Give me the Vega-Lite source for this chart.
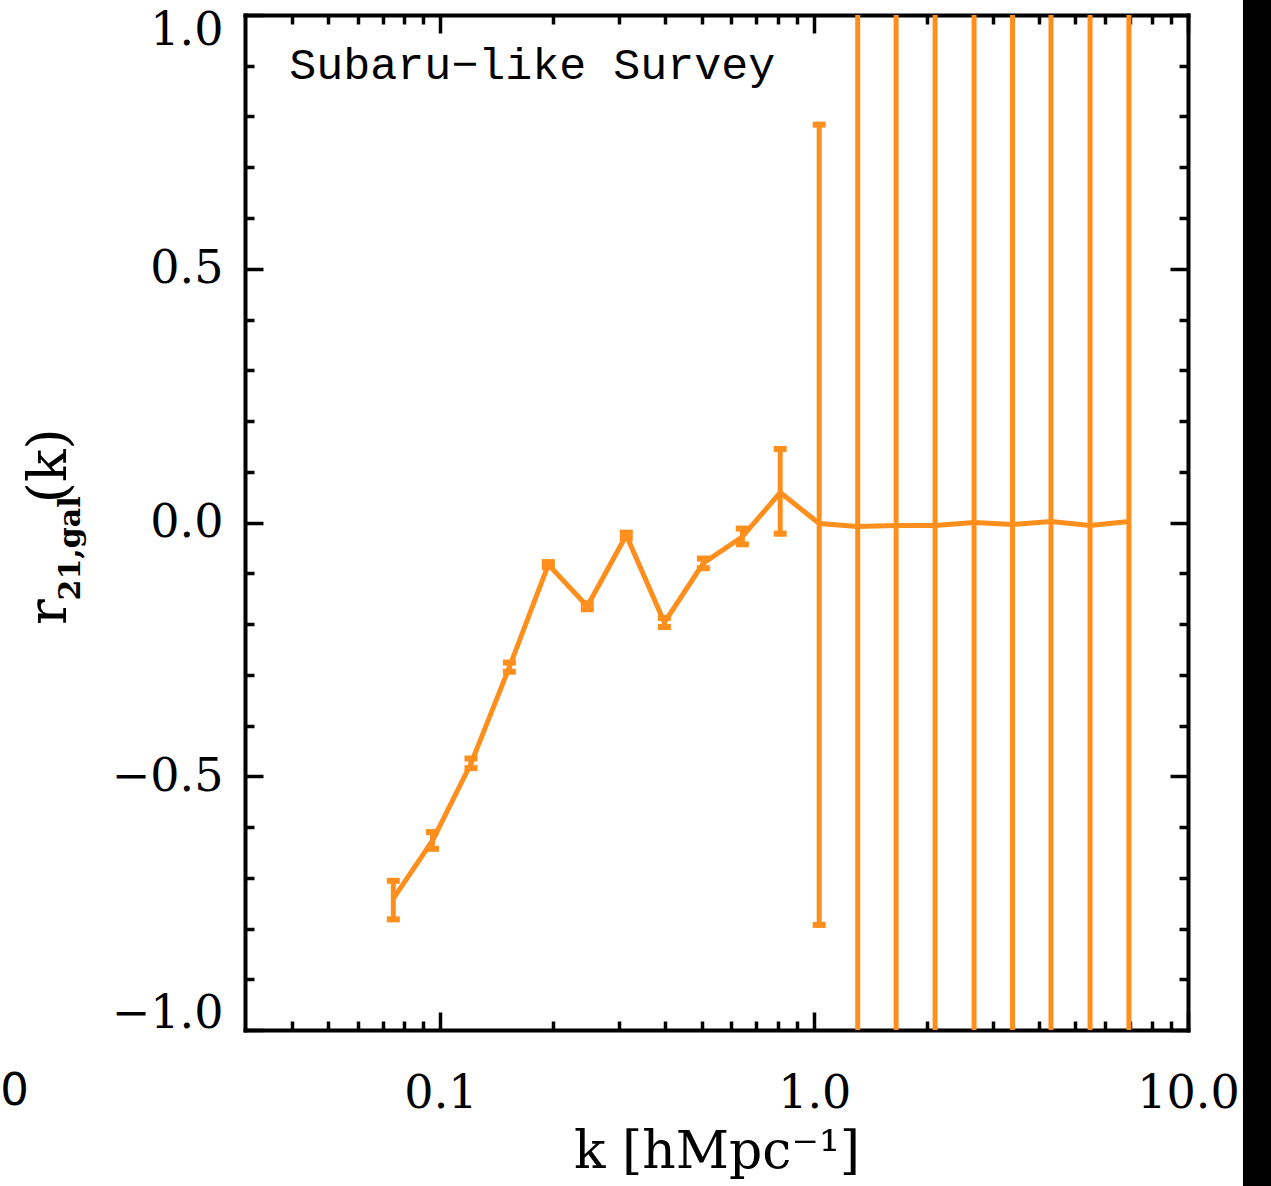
{
  "$schema": "https://vega.github.io/schema/vega-lite/v6.json",
  "width": 943,
  "height": 1015,
  "autosize": {"type": "none"},
  "padding": {"left": 245, "top": 15, "right": 83, "bottom": 156},
  "background": "white",
  "config": {
    "view": {"stroke": null},
    "axis": {"grid": false, "domainColor": "black", "tickColor": "black", "labelColor": "black", "titleColor": "black"}
  },
  "datasets": {
    "main": [
      {"k": 0.0748, "r": -0.741, "lo": -0.782, "hi": -0.706},
      {"k": 0.0952, "r": -0.627, "lo": -0.643, "hi": -0.610},
      {"k": 0.1207, "r": -0.475, "lo": -0.484, "hi": -0.465},
      {"k": 0.1529, "r": -0.285, "lo": -0.294, "hi": -0.276},
      {"k": 0.1944, "r": -0.083, "lo": -0.088, "hi": -0.078},
      {"k": 0.2471, "r": -0.165, "lo": -0.171, "hi": -0.159},
      {"k": 0.3142, "r": -0.025, "lo": -0.031, "hi": -0.020},
      {"k": 0.3973, "r": -0.197, "lo": -0.206, "hi": -0.188},
      {"k": 0.5052, "r": -0.080, "lo": -0.090, "hi": -0.071},
      {"k": 0.6423, "r": -0.028, "lo": -0.043, "hi": -0.012},
      {"k": 0.8109, "r": 0.059, "lo": -0.022, "hi": 0.145},
      {"k": 1.0311, "r": -0.002, "lo": -0.793, "hi": 0.784},
      {"k": 1.3073, "r": -0.008, "lo": -2.5, "hi": 2.5},
      {"k": 1.6562, "r": -0.006, "lo": -2.5, "hi": 2.5},
      {"k": 2.1057, "r": -0.006, "lo": -2.5, "hi": 2.5},
      {"k": 2.677, "r": 0.000, "lo": -2.5, "hi": 2.5},
      {"k": 3.393, "r": -0.004, "lo": -2.5, "hi": 2.5},
      {"k": 4.30, "r": 0.002, "lo": -2.5, "hi": 2.5},
      {"k": 5.47, "r": -0.006, "lo": -2.5, "hi": 2.5},
      {"k": 6.95, "r": 0.002, "lo": -2.5, "hi": 2.5}
    ]
  },
  "resolve": {"axis": {"x": "independent", "y": "independent"}},
  "layer": [
    {
      "data": {"values": [{"k": 14.03, "k2": 40, "r": -1.6, "r2": 1.3}]},
      "mark": {"type": "rect", "color": "black", "clip": false},
      "encoding": {
        "x": {"field": "k", "type": "quantitative", "scale": {"type": "log", "domain": [0.03, 10], "nice": false}, "axis": null},
        "x2": {"field": "k2"},
        "y": {"field": "r", "type": "quantitative", "scale": {"domain": [-1, 1], "nice": false, "zero": false}, "axis": null},
        "y2": {"field": "r2"}
      }
    },
    {
      "data": {"name": "main"},
      "mark": {"type": "line", "color": "#ff8f1c", "strokeWidth": 5},
      "encoding": {
        "x": {"field": "k", "type": "quantitative", "scale": {"type": "log", "domain": [0.03, 10], "nice": false},
          "axis": {"orient": "bottom", "values": [0.1, 1, 10], "format": ".1f", "ticks": false, "labelFont": "DejaVu Serif", "labelFontSize": 46, "labelPadding": 41, "labelFlush": false, "domainWidth": 4, "domainCap": "square", "title": "k [hMpc⁻¹]", "titleFont": "DejaVu Serif", "titleFontSize": 52, "titleFontWeight": "normal", "titlePadding": 10}},
        "y": {"field": "r", "type": "quantitative", "scale": {"domain": [-1, 1], "nice": false, "zero": false},
          "axis": {"orient": "left", "values": [-1, -0.5, 0, 0.5, 1], "format": ".1f", "ticks": false, "labelFont": "DejaVu Serif", "labelFontSize": 46, "labelPadding": 22, "labelFlush": true, "labelFlushOffset": 7, "domainWidth": 4, "domainCap": "square", "title": null}}
      }
    },
    {
      "data": {"name": "main"},
      "mark": {"type": "rule", "color": "#ff8f1c", "strokeWidth": 5, "opacity": 1, "clip": true},
      "encoding": {
        "x": {"field": "k", "type": "quantitative",
          "axis": {"orient": "bottom", "values": [0.1, 1, 10], "labels": false, "domain": false, "tickSize": -18, "tickWidth": 3.5, "title": null}},
        "y": {"field": "lo", "type": "quantitative",
          "axis": {"orient": "left", "values": [-1, -0.5, 0, 0.5, 1], "labels": false, "domain": false, "tickSize": -18, "tickWidth": 3.5, "title": null}},
        "y2": {"field": "hi"}
      }
    },
    {
      "data": {"name": "main"},
      "mark": {"type": "tick", "orient": "horizontal", "color": "#ff8f1c", "opacity": 1, "size": 13, "thickness": 6, "clip": true},
      "encoding": {
        "x": {"field": "k", "type": "quantitative",
          "axis": {"orient": "bottom", "values": [0.04, 0.05, 0.06, 0.07, 0.08, 0.09, 0.2, 0.3, 0.4, 0.5, 0.6, 0.7, 0.8, 0.9, 2, 3, 4, 5, 6, 7, 8, 9], "labels": false, "domain": false, "tickSize": -9, "tickWidth": 3.5, "title": null}},
        "y": {"field": "lo", "type": "quantitative",
          "axis": {"orient": "left", "values": [-0.9, -0.8, -0.7, -0.6, -0.4, -0.3, -0.2, -0.1, 0.1, 0.2, 0.3, 0.4, 0.6, 0.7, 0.8, 0.9], "labels": false, "domain": false, "tickSize": -9, "tickWidth": 3.5, "title": null}}
      }
    },
    {
      "data": {"name": "main"},
      "mark": {"type": "tick", "orient": "horizontal", "color": "#ff8f1c", "opacity": 1, "size": 13, "thickness": 6, "clip": true},
      "encoding": {
        "x": {"field": "k", "type": "quantitative",
          "axis": {"orient": "top", "values": [0.1, 1, 10], "labels": false, "domainWidth": 4, "domainCap": "square", "tickSize": -18, "tickWidth": 3.5, "title": null}},
        "y": {"field": "hi", "type": "quantitative",
          "axis": {"orient": "right", "values": [-1, -0.5, 0, 0.5, 1], "labels": false, "domainWidth": 4, "domainCap": "square", "tickSize": -18, "tickWidth": 3.5, "title": null}}
      }
    },
    {
      "data": {"values": [{"k": 0.0394, "r": 0.873, "label": "Subaru−like Survey"}]},
      "mark": {"type": "text", "align": "left", "baseline": "alphabetic", "font": "Liberation Mono", "fontSize": 45, "color": "black"},
      "encoding": {
        "x": {"field": "k", "type": "quantitative",
          "axis": {"orient": "top", "values": [0.04, 0.05, 0.06, 0.07, 0.08, 0.09, 0.2, 0.3, 0.4, 0.5, 0.6, 0.7, 0.8, 0.9, 2, 3, 4, 5, 6, 7, 8, 9], "labels": false, "domain": false, "tickSize": -9, "tickWidth": 3.5, "title": null}},
        "y": {"field": "r", "type": "quantitative",
          "axis": {"orient": "right", "values": [-0.9, -0.8, -0.7, -0.6, -0.4, -0.3, -0.2, -0.1, 0.1, 0.2, 0.3, 0.4, 0.6, 0.7, 0.8, 0.9], "labels": false, "domain": false, "tickSize": -9, "tickWidth": 3.5, "title": null}},
        "text": {"field": "label"}
      }
    },
    {
      "data": {"values": [{"k": 0.00994, "r": -0.1765, "label": "r"}, {"k": 0.00994, "r": 0.1118, "label": "(k)"}]},
      "mark": {"type": "text", "angle": 270, "align": "center", "baseline": "alphabetic", "font": "DejaVu Serif", "fontSize": 54, "color": "black", "clip": false},
      "encoding": {
        "x": {"field": "k", "type": "quantitative", "axis": null},
        "y": {"field": "r", "type": "quantitative", "axis": null},
        "text": {"field": "label"}
      }
    },
    {
      "data": {"values": [{"k": 0.01083, "r": -0.051, "label": "21,gal"}]},
      "mark": {"type": "text", "angle": 270, "align": "center", "baseline": "alphabetic", "font": "DejaVu Serif", "fontSize": 30, "fontWeight": "bold", "color": "black", "clip": false},
      "encoding": {
        "x": {"field": "k", "type": "quantitative", "axis": null},
        "y": {"field": "r", "type": "quantitative", "axis": null},
        "text": {"field": "label"}
      }
    },
    {
      "data": {"values": [{"k": 0.00725, "r": -1.147, "label": "0"}]},
      "mark": {"type": "text", "align": "center", "baseline": "alphabetic", "font": "DejaVu Sans", "fontSize": 45, "color": "black", "clip": false},
      "encoding": {
        "x": {"field": "k", "type": "quantitative", "axis": null},
        "y": {"field": "r", "type": "quantitative", "axis": null},
        "text": {"field": "label"}
      }
    }
  ]
}
